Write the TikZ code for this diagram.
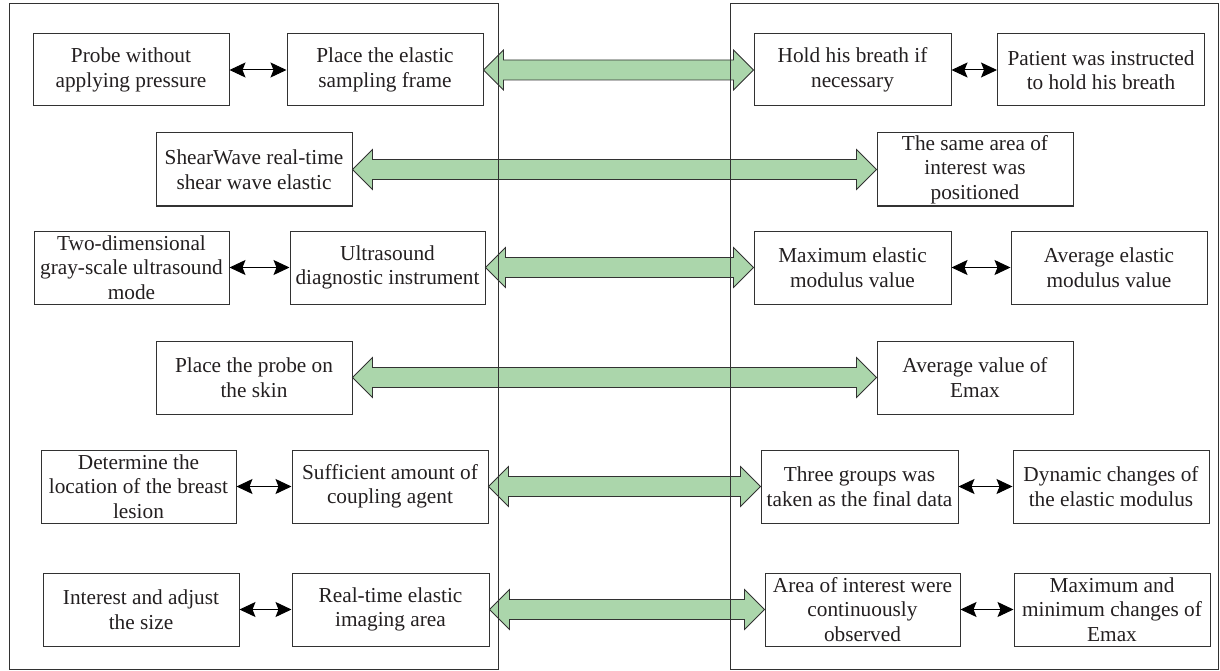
\documentclass[tikz,border=0pt]{standalone}
\usepackage{fontspec}
\setmainfont{Liberation Serif}
\usetikzlibrary{arrows.meta,calc}
\definecolor{arrowgreen}{RGB}{171,214,171}
\definecolor{boxline}{RGB}{50,50,50}
\definecolor{txt}{RGB}{35,31,32}
\newcommand\greenlink[2]{%
  \draw[garrow] let \p1=(#1.east), \p2=(#2.west) in
    (\x1,\y1) -- (\x1+20pt,\y1+20pt) -- (\x1+20pt,\y1+10pt) -- (\x2-20pt,\y1+10pt)
    -- (\x2-20pt,\y1+20pt) -- (\x2,\y1) -- (\x2-20pt,\y1-20pt) -- (\x2-20pt,\y1-10pt)
    -- (\x1+20pt,\y1-10pt) -- (\x1+20pt,\y1-20pt) -- cycle;}
\begin{document}
\begin{tikzpicture}[x=1pt,y=-1pt,
  box/.style={draw=boxline, line width=1pt, inner sep=0pt, align=center, text=txt,
    minimum height=73pt, font=\fontsize{21.3}{24.5}\selectfont},
  panel/.style={draw=boxline, line width=1pt},
  garrow/.style={fill=arrowgreen, draw=boxline, line width=0.8pt, line join=miter},
  blk/.style={{Stealth[length=16pt,width=15pt,inset=3pt]}-{Stealth[length=16pt,width=15pt,inset=3pt]}, line width=1pt, black}]
\useasboundingbox (0,0) rectangle (1220,671);
% row 1
\node[box, minimum width=196pt, minimum height=72pt] (a1) at (131,70) {Probe without\\applying pressure};
\node[box, minimum width=196pt, minimum height=72pt] (a2) at (385,70) {Place the elastic\\sampling frame};
\node[box, minimum width=197pt, minimum height=72pt] (b1) at (852.5,70) {Hold his breath if\\necessary};
\node[box, minimum width=207pt, minimum height=72pt] (b2) at (1101,70) {Patient was instructed\\to hold his breath};
% row 2
\node[box, minimum width=196pt] (c1) at (254,169.5) {ShearWave real-time\\shear wave elastic};
\node[box, minimum width=196pt] (c2) at (975,169.5) {The same area of\\interest was\\positioned};
% row 3
\node[box, minimum width=195pt] (d1) at (131.5,267.5) {Two-dimensional\\gray-scale ultrasound\\mode};
\node[box, minimum width=195pt] (d2) at (387.5,267.5) {Ultrasound\\diagnostic instrument};
\node[box, minimum width=197pt] (d3) at (852.5,267.5) {Maximum elastic\\modulus value};
\node[box, minimum width=196pt] (d4) at (1109,267.5) {Average elastic\\modulus value};
% row 4
\node[box, minimum width=196pt] (e1) at (254,377.5) {Place the probe on\\the skin};
\node[box, minimum width=196pt] (e2) at (975,377.5) {Average value of\\Emax};
% row 5
\node[box, minimum width=195pt] (f1) at (138.5,486.5) {Determine the\\location of the breast\\lesion};
\node[box, minimum width=196pt] (f2) at (390,486.5) {Sufficient amount of\\coupling agent};
\node[box, minimum width=197pt] (f3) at (859.5,486.5) {Three groups was\\taken as the final data};
\node[box, minimum width=196pt] (f4) at (1111,486.5) {Dynamic changes of\\the elastic modulus};
% row 6
\node[box, minimum width=196pt] (g1) at (141,609.5) {Interest and adjust\\the size};
\node[box, minimum width=197pt] (g2) at (390.5,609.5) {Real-time elastic\\imaging area};
\node[box, minimum width=195pt] (g3) at (862.5,609.5) {Area of interest were\\continuously\\observed};
\node[box, minimum width=196pt] (g4) at (1112,609.5) {Maximum and\\minimum changes of\\Emax};
% green arrows
\greenlink{a2}{b1}
\greenlink{c1}{c2}
\greenlink{d2}{d3}
\greenlink{e1}{e2}
\greenlink{f2}{f3}
\greenlink{g2}{g3}
% panels
\node[panel, inner sep=0pt, minimum width=489pt, minimum height=665pt] (lp) at (253.5,336.5) {};
\node[panel, inner sep=0pt, minimum width=488pt, minimum height=665pt] (rp) at (974,336.5) {};
% black double arrows
\draw[blk] (a1) -- (a2);
\draw[blk] (b1) -- (b2);
\draw[blk] (d1) -- (d2);
\draw[blk] (d3) -- (d4);
\draw[blk] (f1) -- (f2);
\draw[blk] (f3) -- (f4);
\draw[blk] (g1) -- (g2);
\draw[blk] (g3) -- (g4);
\end{tikzpicture}
\end{document}
